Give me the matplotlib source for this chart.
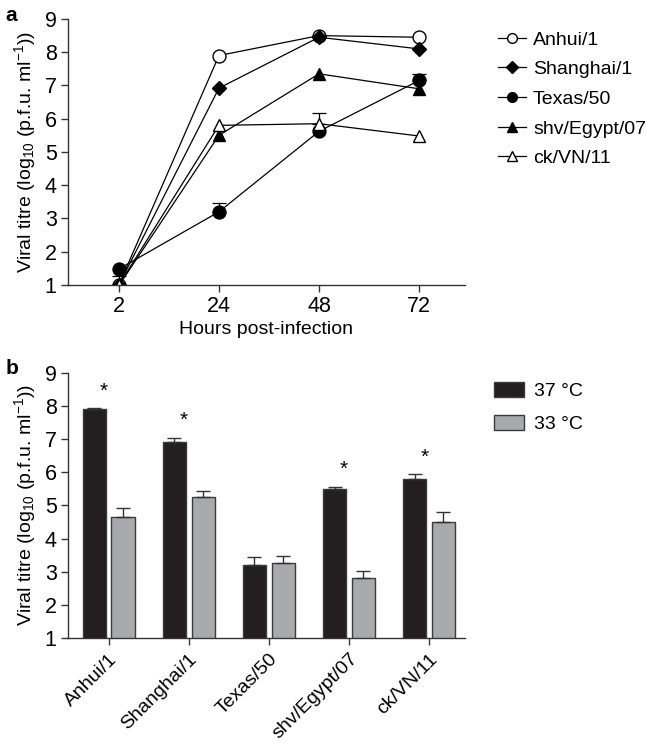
import matplotlib.pyplot as plt
import numpy as np
from matplotlib.patches import Patch
from matplotlib.lines import Line2D

plt.rcParams['font.family'] = ['Liberation Sans', 'DejaVu Sans']
plt.rcParams['mathtext.fontset'] = 'custom'
plt.rcParams['mathtext.rm'] = 'Liberation Sans'
plt.rcParams['mathtext.it'] = 'Liberation Sans'

# panel a data
hours = ['2', '24', '48', '72']
strains = ['Anhui/1', 'Shanghai/1', 'Texas/50', 'shv/Egypt/07', 'ck/VN/11']
anhui = [1.0, 7.9, 8.5, 8.45]
shanghai = [1.0, 6.92, 8.45, 8.1]
texas = [1.48, 3.2, 5.62, 7.15]
egypt = [0.98, 5.5, 7.35, 6.9]
vn = [1.0, 5.8, 5.85, 5.48]
texas_err = [0, 0.25, 0, 0.2]
egypt_err = [0.28, 0, 0, 0]
vn_err = [0, 0, 0.32, 0]

# panel b data
t37 = [7.91, 6.92, 3.21, 5.51, 5.8]
t33 = [4.64, 5.27, 3.27, 2.8, 4.5]
t37_err = [0.03, 0.13, 0.23, 0.06, 0.14]
t33_err = [0.27, 0.18, 0.19, 0.23, 0.29]
signif = [True, True, False, True, True]

fig = plt.figure(figsize=(6.46, 7.44), dpi=100)
ax1 = fig.add_axes([0.105, 0.617, 0.615, 0.3575])
ax2 = fig.add_axes([0.105, 0.1425, 0.615, 0.3562])

x = np.arange(len(hours))
styles = [
    (anhui, None, dict(marker='o', mfc='white')),
    (shanghai, None, dict(marker='D', mfc='black', ms=7.5)),
    (texas, texas_err, dict(marker='o', mfc='black')),
    (egypt, egypt_err, dict(marker='^', mfc='black')),
    (vn, vn_err, dict(marker='^', mfc='white')),
]
handles = []
for (vals, err, st), name in zip(styles, strains):
    kw = dict(color='black', lw=0.9, mec='black', ms=9.3)
    kw.update(st)
    if err is not None:
        e = np.array(err)
        m = e > 0
        ax1.errorbar(x[m], np.array(vals)[m], yerr=[np.zeros(m.sum()), e[m]],
                     fmt='none', ecolor='black', elinewidth=0.9, capsize=5, capthick=0.9)
    ax1.plot(x, vals, **kw)
    hk = dict(kw)
    hk['ms'] = 7 if st['marker'] != 'D' else 6
    handles.append(Line2D([], [], label=name, **hk))

ax1.set_xlim(-0.51, 3.46)
ax1.set_ylim(1, 9)
ax1.set_xticks(x)
ax1.set_xticklabels(hours)
ax1.set_yticks(range(1, 10))
ax1.set_xlabel('Hours post-infection', fontsize=14, labelpad=3)
ax1.set_ylabel(r'Viral titre (log$_{10}$ (p.f.u. ml$^{-1}$))', fontsize=14, labelpad=5)
fig.legend(handles=handles, loc='upper left', bbox_to_anchor=(0.744, 0.982),
           frameon=False, fontsize=14, handlelength=1.45, handletextpad=0.35,
           labelspacing=0.62)

xb = np.arange(len(strains))
w = 0.29
ax2.bar(xb - 0.18, t37, w, bottom=0, color='#231f20', edgecolor='#3a3a3a', lw=1,
        yerr=[np.zeros(5), t37_err], error_kw=dict(ecolor='#333333', elinewidth=1, capsize=5, capthick=1),
        label='37 °C')
ax2.bar(xb + 0.18, t33, w, color='#a7a9ac', edgecolor='#3a3a3a', lw=1,
        yerr=[np.zeros(5), t33_err], error_kw=dict(ecolor='#333333', elinewidth=1, capsize=5, capthick=1),
        label='33 °C')
for i, s in enumerate(signif):
    if s:
        ax2.text(xb[i] - 0.06, t37[i] + t37_err[i] + 0.22, '*', ha='center', va='bottom', fontsize=15)

ax2.set_xlim(-0.51, 4.45)
ax2.set_ylim(1, 9)
ax2.set_yticks(range(1, 10))
ax2.set_xticks(xb)
ax2.set_xticklabels(strains, rotation=45, ha='right', rotation_mode='anchor')
ax2.set_ylabel(r'Viral titre (log$_{10}$ (p.f.u. ml$^{-1}$))', fontsize=14, labelpad=5)
fig.legend(handles=[Patch(facecolor='#231f20', edgecolor='#3a3a3a', label='37 °C'),
                    Patch(facecolor='#a7a9ac', edgecolor='#3a3a3a', label='33 °C')],
           loc='upper left', bbox_to_anchor=(0.737, 0.51), frameon=False, fontsize=14,
           handlelength=1.55, handleheight=0.8, handletextpad=0.55, labelspacing=0.75)

for ax in (ax1, ax2):
    ax.spines['top'].set_visible(False)
    ax.spines['right'].set_visible(False)
    for sp in ('left', 'bottom'):
        ax.spines[sp].set_linewidth(1)
        ax.spines[sp].set_color('#333333')
    ax.tick_params(labelsize=15.5, length=5, width=1, color='#333333', pad=3)
ax2.tick_params(axis='x', labelsize=14, pad=4)

fig.text(0.008, 0.972, 'a', fontsize=15, fontweight='bold')
fig.text(0.008, 0.497, 'b', fontsize=15, fontweight='bold')

fig.savefig('out.png', dpi=100)
